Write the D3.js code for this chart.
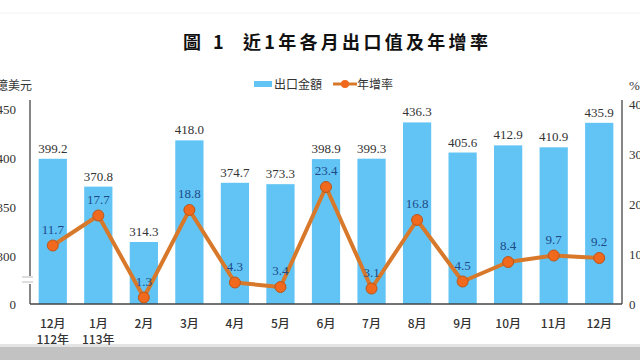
<!DOCTYPE html>
<html lang="zh-Hant">
<head>
<meta charset="utf-8">
<script src="https://d3js.org/d3.v7.min.js"></script>
<style>
body { margin: 0; background: #fff; }
svg text { font-family: "Liberation Serif", "Noto Sans CJK TC", serif; }
.cjk { font-family: "Noto Sans CJK TC", sans-serif; }
</style>
</head>
<body>
<div id="chart"></div>
<script>
// data
var months = ["12月", "1月", "2月", "3月", "4月", "5月", "6月", "7月", "8月", "9月", "10月", "11月", "12月"];
var yearTags = ["112年", "113年", "", "", "", "", "", "", "", "", "", "", ""];
var exports = [399.2, 370.8, 314.3, 418.0, 374.7, 373.3, 398.9, 399.3, 436.3, 405.6, 412.9, 410.9, 435.9];
var growth = [11.7, 17.7, 1.3, 18.8, 4.3, 3.4, 23.4, 3.1, 16.8, 4.5, 8.4, 9.7, 9.2];
var leftTicks = [0, 300, 350, 400, 450];
var rightTicks = [0, 10, 20, 30, 40];

var width = 640, height = 360;
var barColor = "#62c4f5";
var lineColor = "#d8782a";
var dotColor = "#f0691c";

var svg = d3.select("#chart").append("svg")
  .attr("width", width)
  .attr("height", height);

// faint top rule and bottom grey band
svg.append("line").attr("x1", 0).attr("x2", width).attr("y1", 13).attr("y2", 13)
  .style("stroke", "#f2f2f2");
svg.append("rect").attr("x", 0).attr("y", 344).attr("width", width).attr("height", 3).style("fill", "#e4e4e4");
svg.append("rect").attr("x", 0).attr("y", 347).attr("width", width).attr("height", 13).style("fill", "#c2c2c2");

// title
var title = svg.append("g").attr("class", "cjk").style("font-weight", "bold").style("font-size", "18px").style("fill", "#111");
title.append("text").attr("x", 183).attr("y", 49).attr("class", "cjk").text("圖");
title.append("text").attr("x", 213).attr("y", 49).attr("class", "cjk").text("1");
title.append("text").attr("x", 243).attr("y", 49).attr("class", "cjk")
  .style("letter-spacing", "3.3px").text("近1年各月出口值及年增率");

// scales
var x = d3.scaleBand().domain(d3.range(months.length)).range([30, 622]).paddingInner(0.38).paddingOuter(0.19);
// broken axis: 0..300 squeezed into a short segment
var y = d3.scaleLinear().domain([0, 300, 450]).range([304, 256, 109]);
var y2 = d3.scaleLinear().domain([0, 40]).range([304, 104]);

// bars
svg.selectAll("rect.bar").data(exports).enter().append("rect")
  .attr("class", "bar")
  .attr("x", function(d, i) { return x(i); })
  .attr("width", x.bandwidth())
  .attr("y", function(d) { return y(d); })
  .attr("height", function(d) { return y(0) - y(d); })
  .style("fill", barColor);

svg.selectAll("text.bl").data(exports).enter().append("text")
  .attr("class", "bl")
  .attr("x", function(d, i) { return x(i) + x.bandwidth() / 2; })
  .attr("y", function(d) { return y(d) - 6; })
  .attr("text-anchor", "middle")
  .style("font-size", "13px").style("fill", "#333")
  .text(function(d) { return d.toFixed(1); });

// axes
var axL = svg.append("g").attr("transform", "translate(30,0)")
  .call(d3.axisLeft(y).tickValues(leftTicks).tickSize(0).tickPadding(14).tickFormat(d3.format("d")));
var axR = svg.append("g").attr("transform", "translate(622,0)")
  .call(d3.axisRight(y2).tickValues(rightTicks).tickSize(0).tickPadding(7).tickFormat(d3.format("d")));
[axL, axR].forEach(function(a) {
  a.select(".domain").attr("d", "M0,100V304").style("stroke", "#444").style("stroke-width", 1.3);
  a.selectAll("text").style("font-size", "13px").style("fill", "#333")
    .style("font-family", "'Liberation Serif', serif");
});
svg.append("line").attr("x1", 30).attr("x2", 622).attr("y1", 304).attr("y2", 304)
  .style("stroke", "#444").style("stroke-width", 1.3);

// axis break marks
svg.append("rect").attr("x", 24).attr("y", 276).attr("width", 12).attr("height", 8).style("fill", "#fff");
[277, 282].forEach(function(v) {
  svg.append("line").attr("x1", 22).attr("x2", 33).attr("y1", v).attr("y2", v)
    .style("stroke", "#bbb").style("stroke-width", 1);
});

// unit labels
svg.append("text").attr("class", "cjk").attr("x", 32).attr("y", 90).attr("text-anchor", "end")
  .style("font-size", "12px").style("fill", "#333").text("億美元");
svg.append("text").attr("x", 629).attr("y", 90)
  .style("font-size", "13px").style("fill", "#333").text("%");

// month labels
svg.selectAll("text.m").data(months).enter().append("text")
  .attr("class", "m cjk")
  .attr("x", function(d, i) { return x(i) + x.bandwidth() / 2; })
  .attr("y", 328).attr("text-anchor", "middle")
  .style("font-size", "12px").style("fill", "#333").style("font-weight", "500")
  .text(function(d) { return d; });
svg.selectAll("text.yr").data(yearTags).enter().append("text")
  .attr("class", "yr cjk")
  .attr("x", function(d, i) { return x(i) + x.bandwidth() / 2; })
  .attr("y", 344).attr("text-anchor", "middle")
  .style("font-size", "12px").style("fill", "#333").style("font-weight", "500")
  .text(function(d) { return d; });

// growth line
var line = d3.line()
  .x(function(d, i) { return x(i) + x.bandwidth() / 2; })
  .y(function(d) { return y2(d); });
svg.append("path").datum(growth).attr("d", line)
  .style("fill", "none").style("stroke", lineColor).style("stroke-width", 4)
  .style("stroke-linejoin", "round");
svg.selectAll("circle.pt").data(growth).enter().append("circle")
  .attr("class", "pt")
  .attr("cx", function(d, i) { return x(i) + x.bandwidth() / 2; })
  .attr("cy", function(d) { return y2(d); })
  .attr("r", 5.5)
  .style("fill", dotColor).style("stroke", "#b9561c").style("stroke-width", 1);
svg.selectAll("text.gl").data(growth).enter().append("text")
  .attr("class", "gl")
  .attr("x", function(d, i) { return x(i) + x.bandwidth() / 2; })
  .attr("y", function(d) { return y2(d) - 12; })
  .attr("text-anchor", "middle")
  .style("font-size", "13px").style("fill", "#1d4a85")
  .text(function(d) { return d.toFixed(1); });

// legend
var lg = svg.append("g");
lg.append("rect").attr("x", 254).attr("y", 81).attr("width", 18).attr("height", 6).style("fill", barColor);
lg.append("text").attr("class", "cjk").attr("x", 274).attr("y", 89)
  .style("font-size", "12px").style("fill", "#333").text("出口金額");
lg.append("line").attr("x1", 333).attr("x2", 357).attr("y1", 84).attr("y2", 84)
  .style("stroke", lineColor).style("stroke-width", 3);
lg.append("circle").attr("cx", 345).attr("cy", 84).attr("r", 4).style("fill", dotColor);
lg.append("text").attr("class", "cjk").attr("x", 357).attr("y", 89)
  .style("font-size", "12px").style("fill", "#333").text("年增率");
</script>
</body>
</html>
